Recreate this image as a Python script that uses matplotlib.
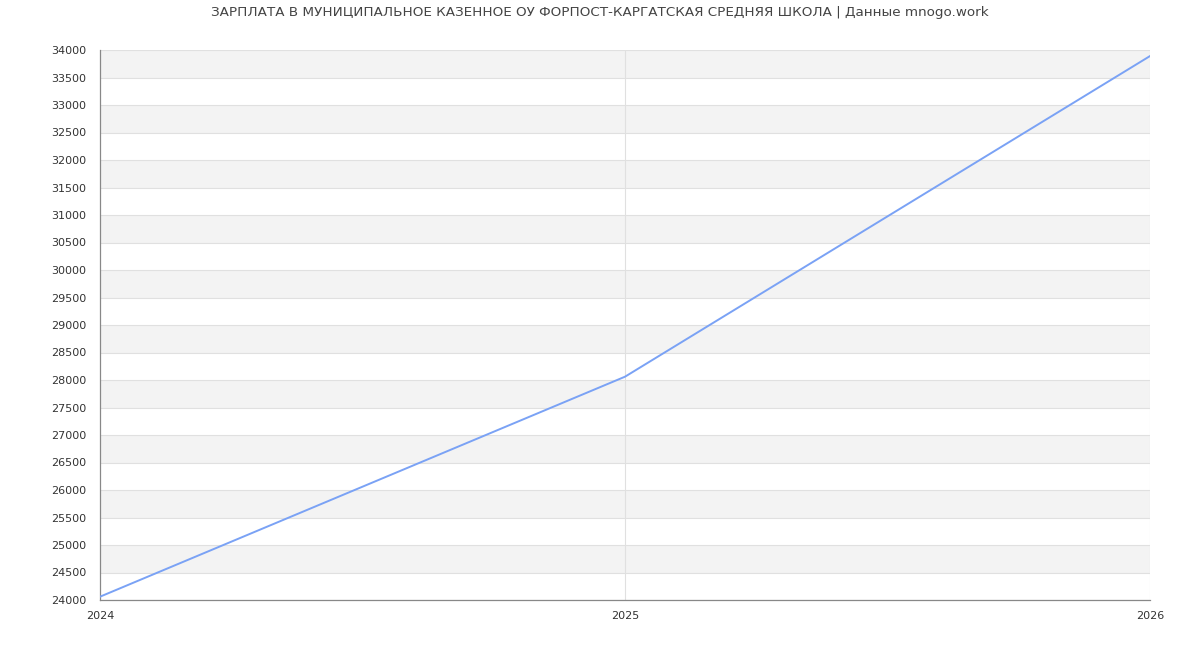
import numpy as np
import matplotlib.pyplot as plt

# Data
years = [2024, 2025, 2026]
salary = [24060, 28060, 33890]
y_ticks = list(range(24000, 34001, 500))
title = 'ЗАРПЛАТА В МУНИЦИПАЛЬНОЕ КАЗЕННОЕ ОУ ФОРПОСТ-КАРГАТСКАЯ СРЕДНЯЯ ШКОЛА | Данные mnogo.work'

fig = plt.figure(figsize=(12, 6.5), dpi=100)
ax = fig.add_axes([100 / 1200, 50 / 650, 1050 / 1200, 550 / 650])

ax.set_xlim(years[0], years[-1])
ax.set_ylim(y_ticks[0], y_ticks[-1])

# alternating horizontal bands
for lo in range(y_ticks[0] + 500, y_ticks[-1], 1000):
    ax.axhspan(lo, lo + 500, color='#f3f3f3', zorder=0, lw=0)

for t in y_ticks:
    ax.axhline(t, color='#e0e0e0', lw=0.8, zorder=1)
for yr in years[1:]:
    ax.axvline(yr, color='#e0e0e0', lw=0.8, zorder=1)

ax.plot(years, salary, color='#7aa2f5', lw=1.4, zorder=3)

ax.set_yticks(y_ticks)
ax.set_yticklabels([str(t) for t in y_ticks])
ax.set_xticks(years)
ax.set_xticklabels([str(y) for y in years])
ax.tick_params(axis='both', labelsize=8, colors='#333333', length=0)
ax.tick_params(axis='y', pad=10)
ax.tick_params(axis='x', pad=8)

for side in ['top', 'right']:
    ax.spines[side].set_visible(False)
for side in ['left', 'bottom']:
    ax.spines[side].set_color('#888888')
    ax.spines[side].set_linewidth(0.9)

fig.text(0.5, 1 - 12.5 / 650, title, ha='center', va='center', fontsize=9.7, color='#444444')

fig.savefig('out.png', dpi=100)
